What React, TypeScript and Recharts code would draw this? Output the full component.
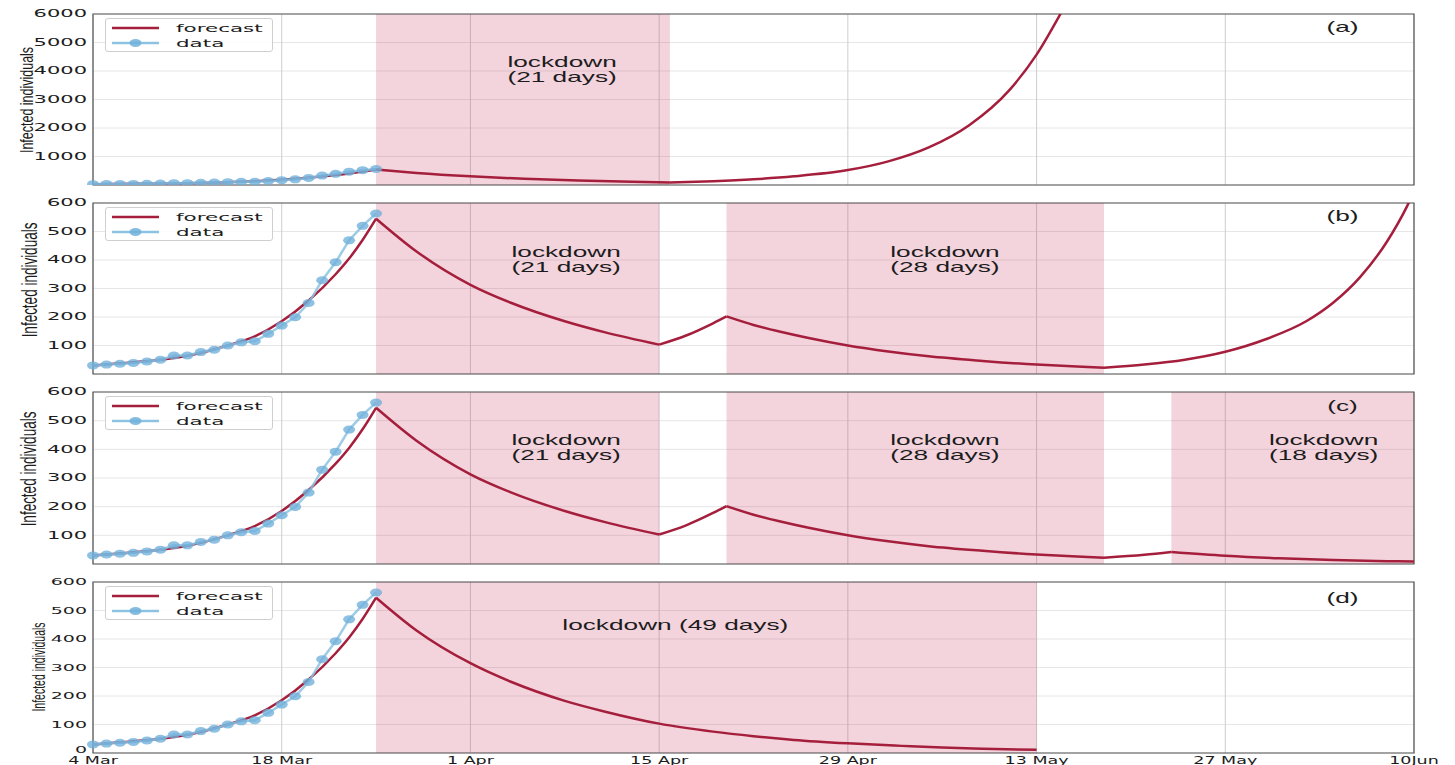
import React from "react";
import {
  LineChart,
  Line,
  XAxis,
  YAxis,
  CartesianGrid,
  ReferenceArea,
  ReferenceDot,
} from "recharts";

// x axis is "days since 4 Mar"
const tickDays = [0, 14, 28, 42, 56, 70, 84, 98];
const tickLabels = ["4 Mar", "18 Mar", "1 Apr", "15 Apr", "29 Apr", "13 May", "27 May", "10Jun"];
const yTicksBig = [0, 1000, 2000, 3000, 4000, 5000, 6000];
const yTicksSmall = [0, 100, 200, 300, 400, 500, 600];

// observed cases
const dataDays = [0, 1, 2, 3, 4, 5, 6, 7, 8, 9, 10, 11, 12, 13, 14, 15, 16, 17, 18, 19, 20, 21];
const dataValues = [30, 33, 36, 39, 44, 50, 65, 65, 77, 85, 100, 111, 115, 141, 170, 199, 249, 329, 392, 469, 520, 563];

// forecast pieces
const riseDays = [0, 3, 5, 7, 10, 12, 14, 16, 18, 19, 20, 21];
const riseVals = [30, 41, 50, 64, 100, 132, 185, 258, 350, 405, 470, 545];

const lockADays = [21, 24, 28, 32, 36, 40, 42.8];
const lockAVals = [545, 425, 305, 218, 157, 112, 88];
const reboundADays = [42.8, 46, 49, 52, 56, 59, 62, 65, 68, 70, 72, 74];
const reboundAVals = [88, 133, 200, 305, 525, 830, 1320, 2100, 3340, 4575, 6200, 8000];

const lock1Days = [21, 24, 28, 31, 35, 38, 42];
const lock1Vals = [545, 430, 313, 250, 185, 146, 103];
const gap1Days = [42, 44, 46, 47];
const gap1Vals = [103, 135, 178, 202];
const lock2Days = [47, 49, 51, 53, 56, 59, 62, 66, 70, 73, 75];
const lock2Vals = [202, 172, 148, 127, 100, 79, 62, 46, 33, 26, 22];
const reboundBDays = [75, 78, 81, 84, 87, 90, 92, 94, 96, 97.5, 98];
const reboundBVals = [22, 33, 50, 78, 122, 185, 250, 340, 465, 590, 640];
const gap2Days = [75, 78, 80];
const gap2Vals = [22, 32, 42];
const lock3Days = [80, 84, 88, 92, 96, 98];
const lock3Vals = [42, 29, 20, 14, 10, 8.5];
const lockDDays = [21, 24, 28, 31, 35, 38, 42, 46, 49, 52, 56, 60, 63, 66, 70];
const lockDVals = [545, 430, 315, 250, 183, 145, 103, 75, 59, 46, 34, 25, 19, 15, 11];

const zip = (days: number[], vals: number[]) => days.map((d, i) => ({ day: d, v: vals[i] }));

const observed = zip(dataDays, dataValues);
const rise = zip(riseDays, riseVals);

const W = 1455;
const RED = "#a51f3d";
const BLUE = "#8dc3e2";
const TXT = "#1c1c1c";

const panels = [
  {
    id: "a",
    top: 14,
    plotH: 171,
    yMax: 6000,
    yTicks: yTicksBig,
    forecast: [rise, zip(lockADays, lockAVals), zip(reboundADays, reboundAVals)],
    locks: [[21, 42.8]],
    notes: [{ day: 34.8, value: 4050, lines: ["lockdown", "(21 days)"] }],
    letter: { day: 92.7, value: 5535 },
    tickFont: 10.5,
    ylab: { cx: 27, cy: 100, size: 12.5, s: 1.45 },
  },
  {
    id: "b",
    top: 203,
    plotH: 171,
    yMax: 600,
    yTicks: yTicksSmall,
    forecast: [rise, zip(lock1Days, lock1Vals), zip(gap1Days, gap1Vals), zip(lock2Days, lock2Vals), zip(reboundBDays, reboundBVals)],
    locks: [[21, 42], [47, 75]],
    notes: [
      { day: 35.1, value: 402, lines: ["lockdown", "(21 days)"] },
      { day: 63.2, value: 402, lines: ["lockdown", "(28 days)"] },
    ],
    letter: { day: 92.7, value: 553 },
    tickFont: 10.5,
    ylab: { cx: 30, cy: 280, size: 13.5, s: 1.6 },
  },
  {
    id: "c",
    top: 392,
    plotH: 172,
    yMax: 600,
    yTicks: yTicksSmall,
    forecast: [rise, zip(lock1Days, lock1Vals), zip(gap1Days, gap1Vals), zip(lock2Days, lock2Vals), zip(gap2Days, gap2Vals), zip(lock3Days, lock3Vals)],
    locks: [[21, 42], [47, 75], [80, 98]],
    notes: [
      { day: 35.1, value: 406, lines: ["lockdown", "(21 days)"] },
      { day: 63.2, value: 406, lines: ["lockdown", "(28 days)"] },
      { day: 91.3, value: 406, lines: ["lockdown", "(18 days)"] },
    ],
    letter: { day: 92.7, value: 550 },
    tickFont: 10.5,
    ylab: { cx: 29, cy: 469, size: 13.5, s: 1.6 },
  },
  {
    id: "d",
    top: 582,
    plotH: 171,
    yMax: 600,
    yTicks: yTicksSmall,
    forecast: [rise, zip(lockDDays, lockDVals)],
    locks: [[21, 70]],
    notes: [{ day: 43.2, value: 448, lines: ["lockdown (49 days)"] }],
    letter: { day: 92.7, value: 543 },
    tickFont: 9.5,
    showX: true,
    ylab: { cx: 38, cy: 667, size: 10.5, s: 1.75 },
  },
];

const NoteText = (props: any) => {
  const vb = props.viewBox;
  if (!vb) return null;
  const cx = vb.x + (vb.width || 0) / 2;
  const cy = vb.y + (vb.height || 0) / 2;
  const lines: string[] = props.lines;
  const gap = 14.5;
  return (
    <g transform={`translate(${cx},${cy}) scale(1.75,1)`}>
      {lines.map((t, i) => (
        <text
          key={i}
          x={0}
          y={(i - (lines.length - 1) / 2) * gap}
          textAnchor="middle"
          dominantBaseline="central"
          fontFamily="Liberation Sans, Arial, sans-serif"
          fontSize={15}
          fill={TXT}
        >
          {t}
        </text>
      ))}
    </g>
  );
};

const Ellipse = (props: any) => {
  const { cx, cy, index } = props;
  if (cx == null || cy == null) return <g key={index} />;
  return <ellipse key={index} cx={cx} cy={cy} rx={6} ry={4} fill="#6fb0da" fillOpacity={0.78} />;
};

const Legend = ({ top }: { top: number }) => (
  <div
    style={{
      position: "absolute",
      left: 105,
      top,
      width: 168,
      height: 34,
      border: "1px solid #cfcfcf",
      borderRadius: 3,
      background: "rgba(255,255,255,0.85)",
      boxSizing: "border-box",
    }}
  >
    <svg width={166} height={32} style={{ display: "block" }}>
      <line x1={6} x2={53} y1={9} y2={9} stroke={RED} strokeWidth={2.5} />
      <line x1={6} x2={53} y1={24} y2={24} stroke={BLUE} strokeWidth={2.5} />
      <ellipse cx={29.5} cy={24} rx={6} ry={4} fill="#6fb0da" fillOpacity={0.85} />
      <text transform="translate(70,9) scale(1.95,1)" dominantBaseline="central" fontFamily="DejaVu Sans" fontSize={11} fill={TXT}>
        forecast
      </text>
      <text transform="translate(70,24) scale(1.95,1)" dominantBaseline="central" fontFamily="DejaVu Sans" fontSize={11} fill={TXT}>
        data
      </text>
    </svg>
  </div>
);

const emptyTick = () => <g />;

const Panel = ({ p }: { p: any }) => {
  const xAxisH = p.showX ? 12 : 1;
  const height = 5 + p.plotH + xAxisH;

  const yTick = (t: any) => {
    const { x, y, payload } = t;
    if (payload.value === 0 && !p.showX) return <g />;
    const lift = payload.value === 0 ? -3 : 0;
    return (
      <text
        transform={`translate(${x},${y + lift}) scale(2,1)`}
        textAnchor="end"
        dominantBaseline="central"
        fontFamily="DejaVu Sans"
        fontSize={p.tickFont}
        fill={TXT}
      >
        {String(payload.value)}
      </text>
    );
  };

  const xTick = (t: any) => {
    const { x, y, payload } = t;
    const i = tickDays.indexOf(payload.value);
    return (
      <text
        transform={`translate(${x},${y + 10.5}) scale(1.75,1)`}
        textAnchor="middle"
        fontFamily="DejaVu Sans"
        fontSize={10}
        fill={TXT}
      >
        {tickLabels[i]}
      </text>
    );
  };

  return (
    <>
      <div style={{ position: "absolute", left: 0, top: p.top - 5, width: W, height }}>
        <LineChart width={W} height={height} margin={{ top: 5, right: 41, bottom: 0, left: 33 }}>
          <CartesianGrid vertical={false} stroke="#e6e6e6" />
          <CartesianGrid horizontal={false} stroke="#cdcdcd" />
          <XAxis
            dataKey="day"
            type="number"
            domain={[0, 98]}
            ticks={tickDays}
            interval={0}
            height={xAxisH}
            axisLine={false}
            tickLine={false}
            tickSize={0}
            tickMargin={0}
            tick={p.showX ? xTick : emptyTick}
          />
          <YAxis
            type="number"
            domain={[0, p.yMax]}
            ticks={p.yTicks}
            interval={0}
            allowDataOverflow
            width={60}
            axisLine={false}
            tickLine={false}
            tickSize={0}
            tickMargin={6}
            tick={yTick}
          />
          {p.locks.map((l: number[], i: number) => (
            <ReferenceArea key={`l${i}`} x1={l[0]} x2={l[1]} fill="#c8385f" fillOpacity={0.22} stroke="none" />
          ))}
          {p.forecast.map((seg: any[], i: number) => (
            <Line
              key={`f${i}`}
              data={seg}
              dataKey="v"
              type="monotone"
              stroke={RED}
              strokeWidth={2.5}
              dot={false}
              activeDot={false}
              isAnimationActive={false}
            />
          ))}
          <Line
            data={observed}
            dataKey="v"
            type="linear"
            stroke={BLUE}
            strokeWidth={2.5}
            strokeOpacity={0.85}
            dot={Ellipse}
            activeDot={false}
            isAnimationActive={false}
          />
          {p.notes.map((n: any, i: number) => (
            <ReferenceDot
              key={`n${i}`}
              x={n.day}
              y={n.value}
              r={0}
              fill="none"
              stroke="none"
              label={(lp: any) => <NoteText {...lp} lines={n.lines} />}
            />
          ))}
          <ReferenceDot
            x={p.letter.day}
            y={p.letter.value}
            r={0}
            fill="none"
            stroke="none"
            label={(lp: any) => <NoteText {...lp} lines={[`(${p.id})`]} />}
          />
          <ReferenceArea x1={0} x2={98} fill="none" stroke="#555" strokeWidth={1.2} />
        </LineChart>
      </div>
      <Legend top={p.top + 4} />
      <svg style={{ position: "absolute", left: 0, top: 0 }} width={60} height={765}>
        <text
          transform={`translate(${p.ylab.cx},${p.ylab.cy}) scale(${p.ylab.s},1) rotate(-90)`}
          textAnchor="middle"
          dominantBaseline="central"
          fontFamily="Liberation Sans, Arial, sans-serif"
          fontSize={p.ylab.size}
          fill={TXT}
        >
          Infected individuals
        </text>
      </svg>
    </>
  );
};

export default function App() {
  return (
    <div
      style={{
        position: "absolute",
        left: 0,
        top: 0,
        width: W,
        height: 765,
        background: "#fff",
        overflow: "hidden",
      }}
    >
      {panels.map((p) => (
        <Panel key={p.id} p={p} />
      ))}
    </div>
  );
}
